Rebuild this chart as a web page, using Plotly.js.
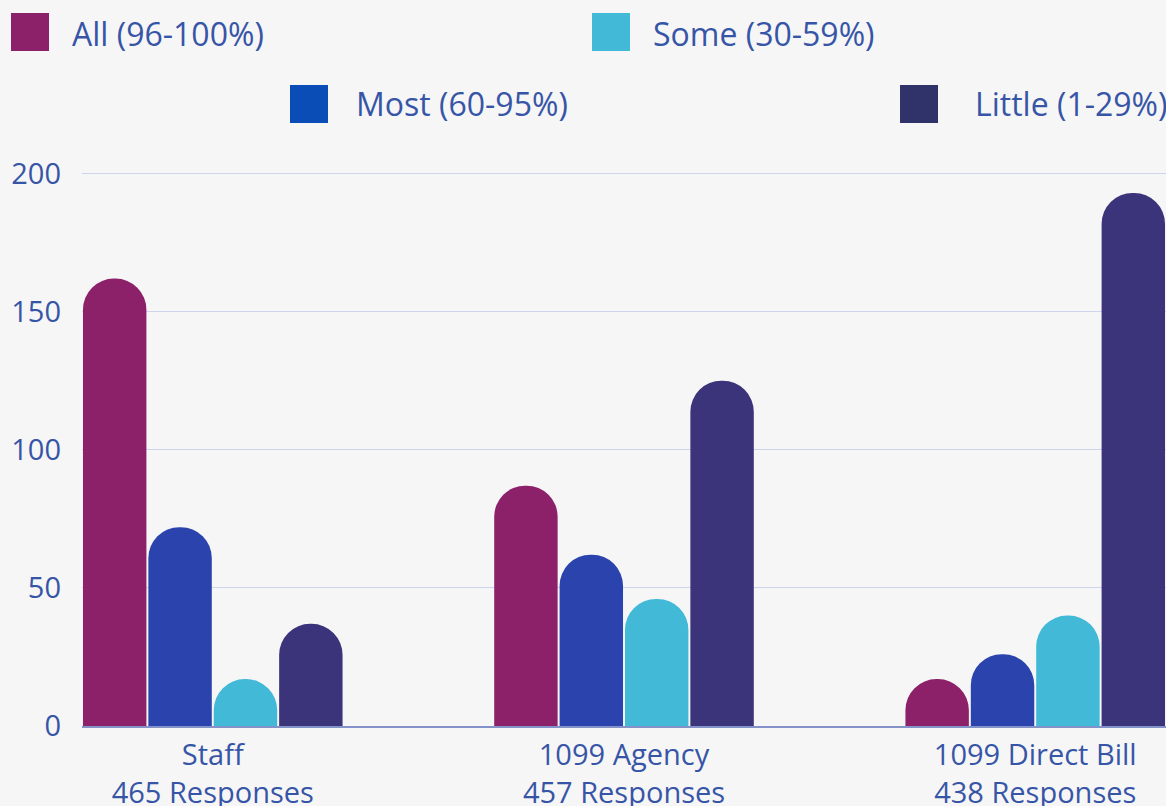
<!DOCTYPE html>
<html>
<head>
<meta charset="utf-8">
<script src="https://cdn.plot.ly/plotly-3.0.1.min.js"></script>
<style>
  html, body { margin: 0; padding: 0; background: #f6f6f6; }
  #chart { width: 1166px; height: 806px; }
</style>
</head>
<body>
<div id="chart"></div>
<script>
// ---- Data ----
const categories = ["Staff<br>465 Responses", "1099 Agency<br>457 Responses", "1099 Direct Bill<br>438 Responses"];
const seriesNames = ["All (96-100%)", "Most (60-95%)", "Some (30-59%)", "Little (1-29%)"];
const allValues    = [162, 87, 17];
const mostValues   = [72, 62, 26];
const someValues   = [17, 46, 40];
const littleValues = [37, 125, 193];
const yTicks = [0, 50, 100, 150, 200];

// ---- Styles ----
const barColors    = ["#8c2169", "#2a43ad", "#42b9d7", "#3b347b"];
const legendColors = ["#8c2169", "#0b4db6", "#42b9d7", "#30336a"];
const textColor = "#3755a7";
const W = 1166, H = 806;
const M = {l: 82, r: 0, t: 146, b: 80};
const plotW = W - M.l - M.r, plotH = H - M.t - M.b;
const px2x = px => (px - M.l) / plotW;
const py2y = py => (H - M.b - py) / plotH;

const seriesValues = [allValues, mostValues, someValues, littleValues];
const xIdx = categories.map((c, i) => i);

const traces = seriesValues.map((vals, i) => ({
  type: "bar",
  name: seriesNames[i],
  x: xIdx,
  y: vals,
  marker: { color: barColors[i], cornerradius: "50%" },
  hoverinfo: "y+name"
}));

// Legend laid out as staggered entries (swatch + label)
const legendPos = [
  {sx: 11, sy: 13, tx: 70, ty: 33},
  {sx: 290, sy: 85, tx: 354, ty: 104},
  {sx: 592, sy: 13, tx: 651, ty: 33},
  {sx: 900, sy: 85, tx: 973, ty: 104}
];
const sw = 38;
const shapes = legendPos.map((p, i) => ({
  type: "rect", xref: "paper", yref: "paper",
  x0: px2x(p.sx), x1: px2x(p.sx + sw),
  y0: py2y(p.sy + sw), y1: py2y(p.sy),
  fillcolor: legendColors[i], line: {width: 0}
}));
const annotations = legendPos.map((p, i) => ({
  xref: "paper", yref: "paper",
  x: px2x(p.tx), y: py2y(p.ty),
  xanchor: "left", yanchor: "middle",
  text: seriesNames[i], showarrow: false,
  font: {family: "Open Sans", size: 32, color: textColor}
}));

const layout = {
  width: W, height: H,
  margin: M,
  paper_bgcolor: "#f6f6f6",
  plot_bgcolor: "#f6f6f6",
  font: {family: "Open Sans", size: 29, color: textColor},
  showlegend: false,
  barmode: "group",
  bargap: 0.364,
  bargroupgap: 0.03,
  xaxis: {
    range: [-0.318, 2.318],
    tickvals: xIdx,
    ticktext: categories,
    showgrid: false,
    zeroline: false,
    showline: true,
    linecolor: "#8393c9",
    linewidth: 1.5,
    ticks: "",
    ticklabelstandoff: 3,
    tickfont: {family: "Open Sans", size: 29, color: textColor},
    fixedrange: true
  },
  yaxis: {
    range: [0, 210],
    tickvals: yTicks,
    showgrid: true,
    gridcolor: "#cdd4ec",
    gridwidth: 1,
    zeroline: false,
    showline: false,
    ticks: "",
    ticklabelstandoff: 20,
    tickfont: {family: "Open Sans", size: 29, color: textColor},
    fixedrange: true
  },
  shapes: shapes,
  annotations: annotations
};

Plotly.newPlot("chart", traces, layout, {displayModeBar: false, staticPlot: true});
</script>
</body>
</html>
